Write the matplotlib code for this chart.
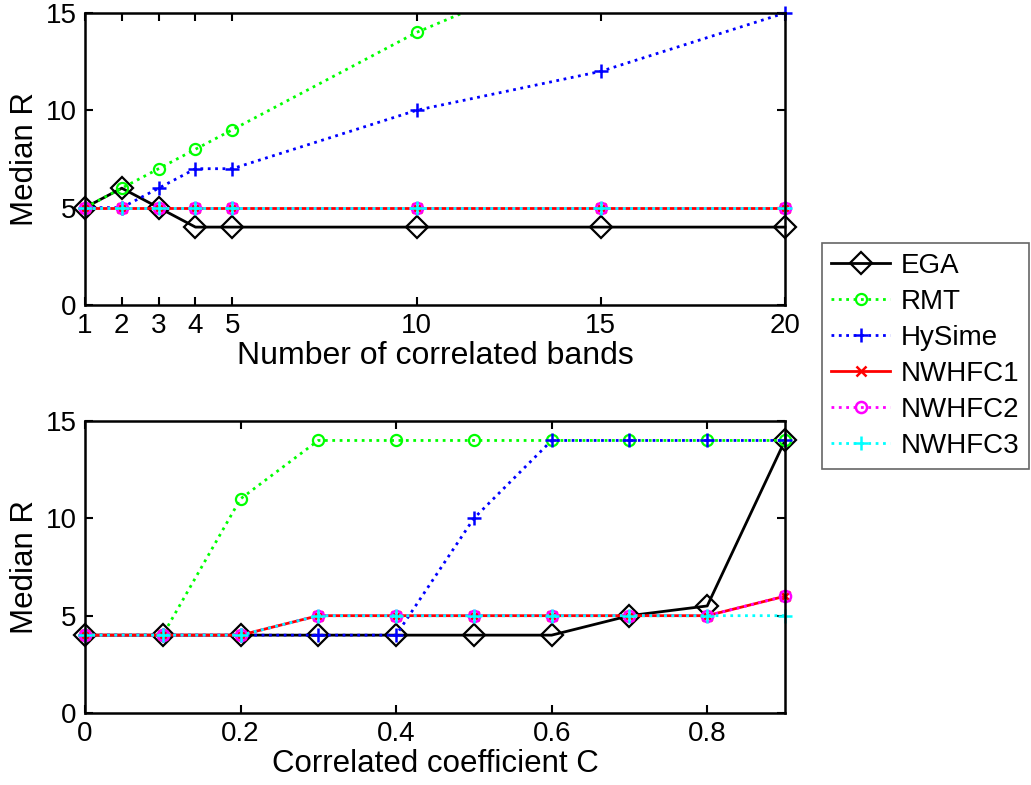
import matplotlib
matplotlib.use("Agg")
from matplotlib import pyplot as plt

# top panel: number of correlated bands
bands = [1, 2, 3, 4, 5, 10, 15, 20]
ega_b = [5, 6, 5, 4, 4, 4, 4, 4]
rmt_b = [5, 6, 7, 8, 9, 14, 18, 22]
hysime_b = [5, 5, 6, 7, 7, 10, 12, 15]
nwhfc1_b = [5, 5, 5, 5, 5, 5, 5, 5]
nwhfc2_b = [5, 5, 5, 5, 5, 5, 5, 5]
nwhfc3_b = [5, 5, 5, 5, 5, 5, 5, 5]

# bottom panel: correlated coefficient
coef = [0, 0.1, 0.2, 0.3, 0.4, 0.5, 0.6, 0.7, 0.8, 0.9]
ega_c = [4, 4, 4, 4, 4, 4, 4, 5, 5.5, 14]
rmt_c = [4, 4, 11, 14, 14, 14, 14, 14, 14, 14]
hysime_c = [4, 4, 4, 4, 4, 10, 14, 14, 14, 14]
nwhfc1_c = [4, 4, 4, 5, 5, 5, 5, 5, 5, 6]
nwhfc2_c = [4, 4, 4, 5, 5, 5, 5, 5, 5, 6]
nwhfc3_c = [4, 4, 4, 5, 5, 5, 5, 5, 5, 5]

names = ["EGA", "RMT", "HySime", "NWHFC1", "NWHFC2", "NWHFC3"]

plt.rcParams['font.family'] = ['Liberation Sans', 'DejaVu Sans']

styles = [
    dict(color='k', ls='-', marker='D', ms=11, mfc='none', mew=1.6),
    dict(color=(0, 1, 0), ls=':', marker='o', ms=8, mfc='none', mew=1.6),
    dict(color=(0, 0, 1), ls=':', marker='+', ms=10, mew=1.8),
    dict(color=(1, 0, 0), ls='-', marker='x', ms=7, mew=1.8),
    dict(color=(1, 0, 1), ls=':', marker='o', ms=8, mfc='none', mew=1.8),
    dict(color=(0, 1, 1), ls=':', marker='+', ms=10, mew=1.8),
]


def style_axes(ax):
    ax.tick_params(direction='in', length=6, width=1.5, labelsize=20,
                   top=True, right=True, pad=6)
    for s in ax.spines.values():
        s.set_linewidth(1.8)
    ax.set_ylim(0, 15)
    ax.set_yticks([0, 5, 10, 15])
    ax.set_ylabel("Median R", fontsize=22.5, labelpad=4)


fig = plt.figure(figsize=(10.31, 7.85), dpi=100)

ax1 = fig.add_axes([0.0824, 0.6115, 0.679, 0.372])
top_data = [ega_b, rmt_b, hysime_b, nwhfc1_b, nwhfc2_b, nwhfc3_b]
handles = []
for name, y, st in zip(names, top_data, styles):
    h, = ax1.plot(bands, y, lw=2, label=name, **st)
    handles.append(h)
ax1.set_xlim(1, 20)
ax1.set_xticks(bands)
ax1.set_xlabel("Number of correlated bands", fontsize=23, labelpad=1)
style_axes(ax1)
# markers on the frame stay whole; RMT is cut at the top of the box
for i, ln in enumerate(ax1.lines):
    if i != 1:
        ln.set_clip_on(False)

ax2 = fig.add_axes([0.0824, 0.0917, 0.679, 0.372])
bot_data = [ega_c, rmt_c, hysime_c, nwhfc1_c, nwhfc2_c, nwhfc3_c]
for name, y, st in zip(names, bot_data, styles):
    ax2.plot(coef, y, lw=2, label=name, clip_on=False, **st)
ax2.set_xlim(0, 0.9)
ax2.set_xticks([0, 0.2, 0.4, 0.6, 0.8])
ax2.set_xticklabels(["0", "0.2", "0.4", "0.6", "0.8"])
ax2.set_xlabel("Correlated coefficient C", fontsize=22.5, labelpad=1)
style_axes(ax2)

leg = fig.legend(handles, names, loc='upper left', bbox_to_anchor=(0.797, 0.69),
                 fontsize=20, numpoints=1, handlelength=2.1, fancybox=False,
                 edgecolor='0.4', framealpha=1, borderpad=0.35, labelspacing=0.36,
                 handletextpad=0.4, borderaxespad=0)
leg.get_frame().set_linewidth(1.2)

plt.savefig("out.png", dpi=100)
